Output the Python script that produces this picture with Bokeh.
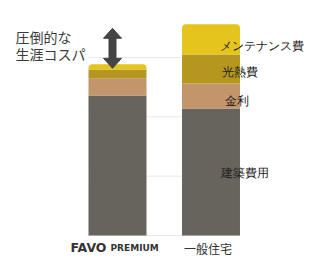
from bokeh.plotting import figure
from bokeh.models import Range1d, ColumnDataSource, LabelSet, Label
from bokeh.embed import file_html
from bokeh.resources import INLINE

# data (arbitrary cost units)
categories = ["FAVO PREMIUM", "一般住宅"]
construction = [2360, 2140]   # 建築費用
interest = [290, 420]         # 金利
utilities = [150, 490]        # 光熱費
maintenance = [85, 510]       # メンテナンス費
segment_names = ["建築費用", "金利", "光熱費", "メンテナンス費"]
segment_colors = ["#67635d", "#c3956a", "#b5971f", "#e4c41d"]
gridlines = [0, 1000, 2000, 3000]
headline = ["圧倒的な", "生涯コスパ"]

xs = [0, 1]
series = [construction, interest, utilities, maintenance]
totals = [sum(s[i] for s in series) for i in range(2)]

W, H = 322, 273
bar_w = 0.62
# pixel scale: 93.5 px per category step, 59.33 px per 1000 units
PX_X = 93.5
PX_Y = 59.33 / 1000
p = figure(width=W, height=H, output_backend="svg", toolbar_location=None,
           x_range=Range1d(-117 / PX_X, (W - 117) / PX_X),
           y_range=Range1d(-(H - 235) / PX_Y, 235 / PX_Y),
           min_border_left=0, min_border_right=0, min_border_top=0, min_border_bottom=0)
p.axis.visible = False
p.outline_line_color = None
p.grid.grid_line_color = None
p.background_fill_color = None
p.border_fill_color = None

# grid lines spanning the bars
p.segment(x0=[xs[0] - bar_w / 2] * len(gridlines), x1=[xs[1] + bar_w / 2] * len(gridlines),
          y0=gridlines, y1=gridlines, line_color="#e8e8e8", line_width=1)

bottom = [0, 0]
for k, (vals, col) in enumerate(zip(series, segment_colors)):
    top = [b + v for b, v in zip(bottom, vals)]
    src = ColumnDataSource(dict(x=xs, bottom=bottom, top=top))
    kw = {}
    if k == len(series) - 1:
        kw["border_radius"] = (4, 4, 0, 0)
    p.vbar(x="x", bottom="bottom", top="top", width=bar_w, source=src,
           fill_color=col, line_color=None, **kw)
    bottom = top

# segment labels beside the second bar
lab_y = []
b = 0
for vals in series:
    lab_y.append(b + vals[1] / 2)
    b += vals[1]
lab_src = ColumnDataSource(dict(x=[1] * 4, y=lab_y, text=segment_names,
                                xo=[10, 14, 11, 9], yo=[-1, -5, -3, -7]))
p.add_layout(LabelSet(x="x", y="y", text="text", source=lab_src, x_offset="xo", y_offset="yo",
                      text_font="Noto Sans CJK JP", text_font_size="12px", text_color="#222222",
                      text_align="left", text_baseline="middle"))

# category labels
p.add_layout(Label(x=1, y=0, text=categories[1], text_font="Noto Sans CJK JP", text_font_size="12px",
                   text_color="#333333", text_align="center", text_baseline="middle",
                   x_offset=-3, y_offset=-13))
p.add_layout(Label(x=0, y=0, text="FAVO", text_font="DejaVu Sans", text_font_style="bold",
                   text_font_size="12.5px", text_color="#333333", text_align="right",
                   text_baseline="middle", x_offset=-11, y_offset=-12))
p.add_layout(Label(x=0, y=0, text="PREMIUM", text_font="DejaVu Sans", text_font_style="bold",
                   text_font_size="9px", text_color="#333333", text_align="left", text_baseline="middle",
                   x_offset=-7, y_offset=-12))

# double arrow showing the difference between the two totals
ax = -5 / PX_X
inset = 4 / PX_Y
head_h = 10 / PX_Y
head_hw = 9 / PX_X
y_hi = totals[1] - inset
y_lo = totals[0] - inset
p.segment(x0=[ax], x1=[ax], y0=[y_lo + head_h * 0.9], y1=[y_hi - head_h * 0.9],
          line_width=8, line_color="#444444")
p.patches(xs=[[ax - head_hw, ax, ax + head_hw], [ax - head_hw, ax, ax + head_hw]],
          ys=[[y_hi - head_h, y_hi, y_hi - head_h], [y_lo + head_h, y_lo, y_lo + head_h]],
          fill_color="#444444", line_color="#444444", line_width=1)

for i, line in enumerate(headline):
    p.add_layout(Label(x=-102 / PX_X, y=totals[1], text=line, text_font="Noto Sans CJK JP",
                       text_font_size="14px", text_color="#3a3a3a", text_align="left",
                       text_baseline="middle", y_offset=-13 - 17 * i))

open("out.html", "w").write(file_html(p, INLINE))
